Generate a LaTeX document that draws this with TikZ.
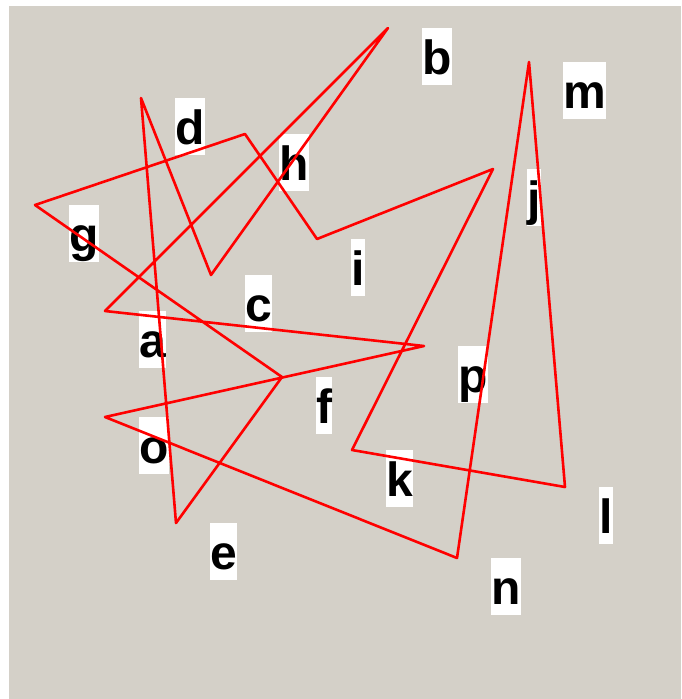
\documentclass[tikz,border=0pt]{standalone}
\usepackage{fontspec}
\setmainfont{Liberation Sans}
\usepackage{tikz}

\definecolor{panelgray}{HTML}{D4D0C8}

\begin{document}
\begin{tikzpicture}[
  x=1pt, y=-1pt,
  lbl/.style={fill=white, anchor=north west, inner sep=0pt,
    text height=46pt, text depth=11pt, font=\fontsize{48}{57}\selectfont\bfseries},
  edge/.style={draw=red, line width=2.6pt, line join=round}
]
\useasboundingbox (0,0) rectangle (681,699);
\fill[white] (0,0) rectangle (681,699);
\fill[panelgray] (9,6) rectangle (681,699);

\foreach \name/\px/\py in {a/105/311, b/388/28, c/211/275, d/141/98,
    e/176/523, f/282/377, g/35/205, h/245/134, i/317/239, j/493/169,
    k/352/450, l/565/487, m/529/62, n/457/558, o/105/417, p/424/346} {
  \coordinate (\name) at (\px,\py);
  \node[lbl] (l\name) at (\px+34,\py) {\name};
}

\draw[edge] (a) -- (b) -- (c) -- (d) -- (e) -- (f) -- (g) -- (h) -- (i)
  -- (j) -- (k) -- (l) -- (m) -- (n) -- (o) -- (p) -- cycle;
\end{tikzpicture}
\end{document}
